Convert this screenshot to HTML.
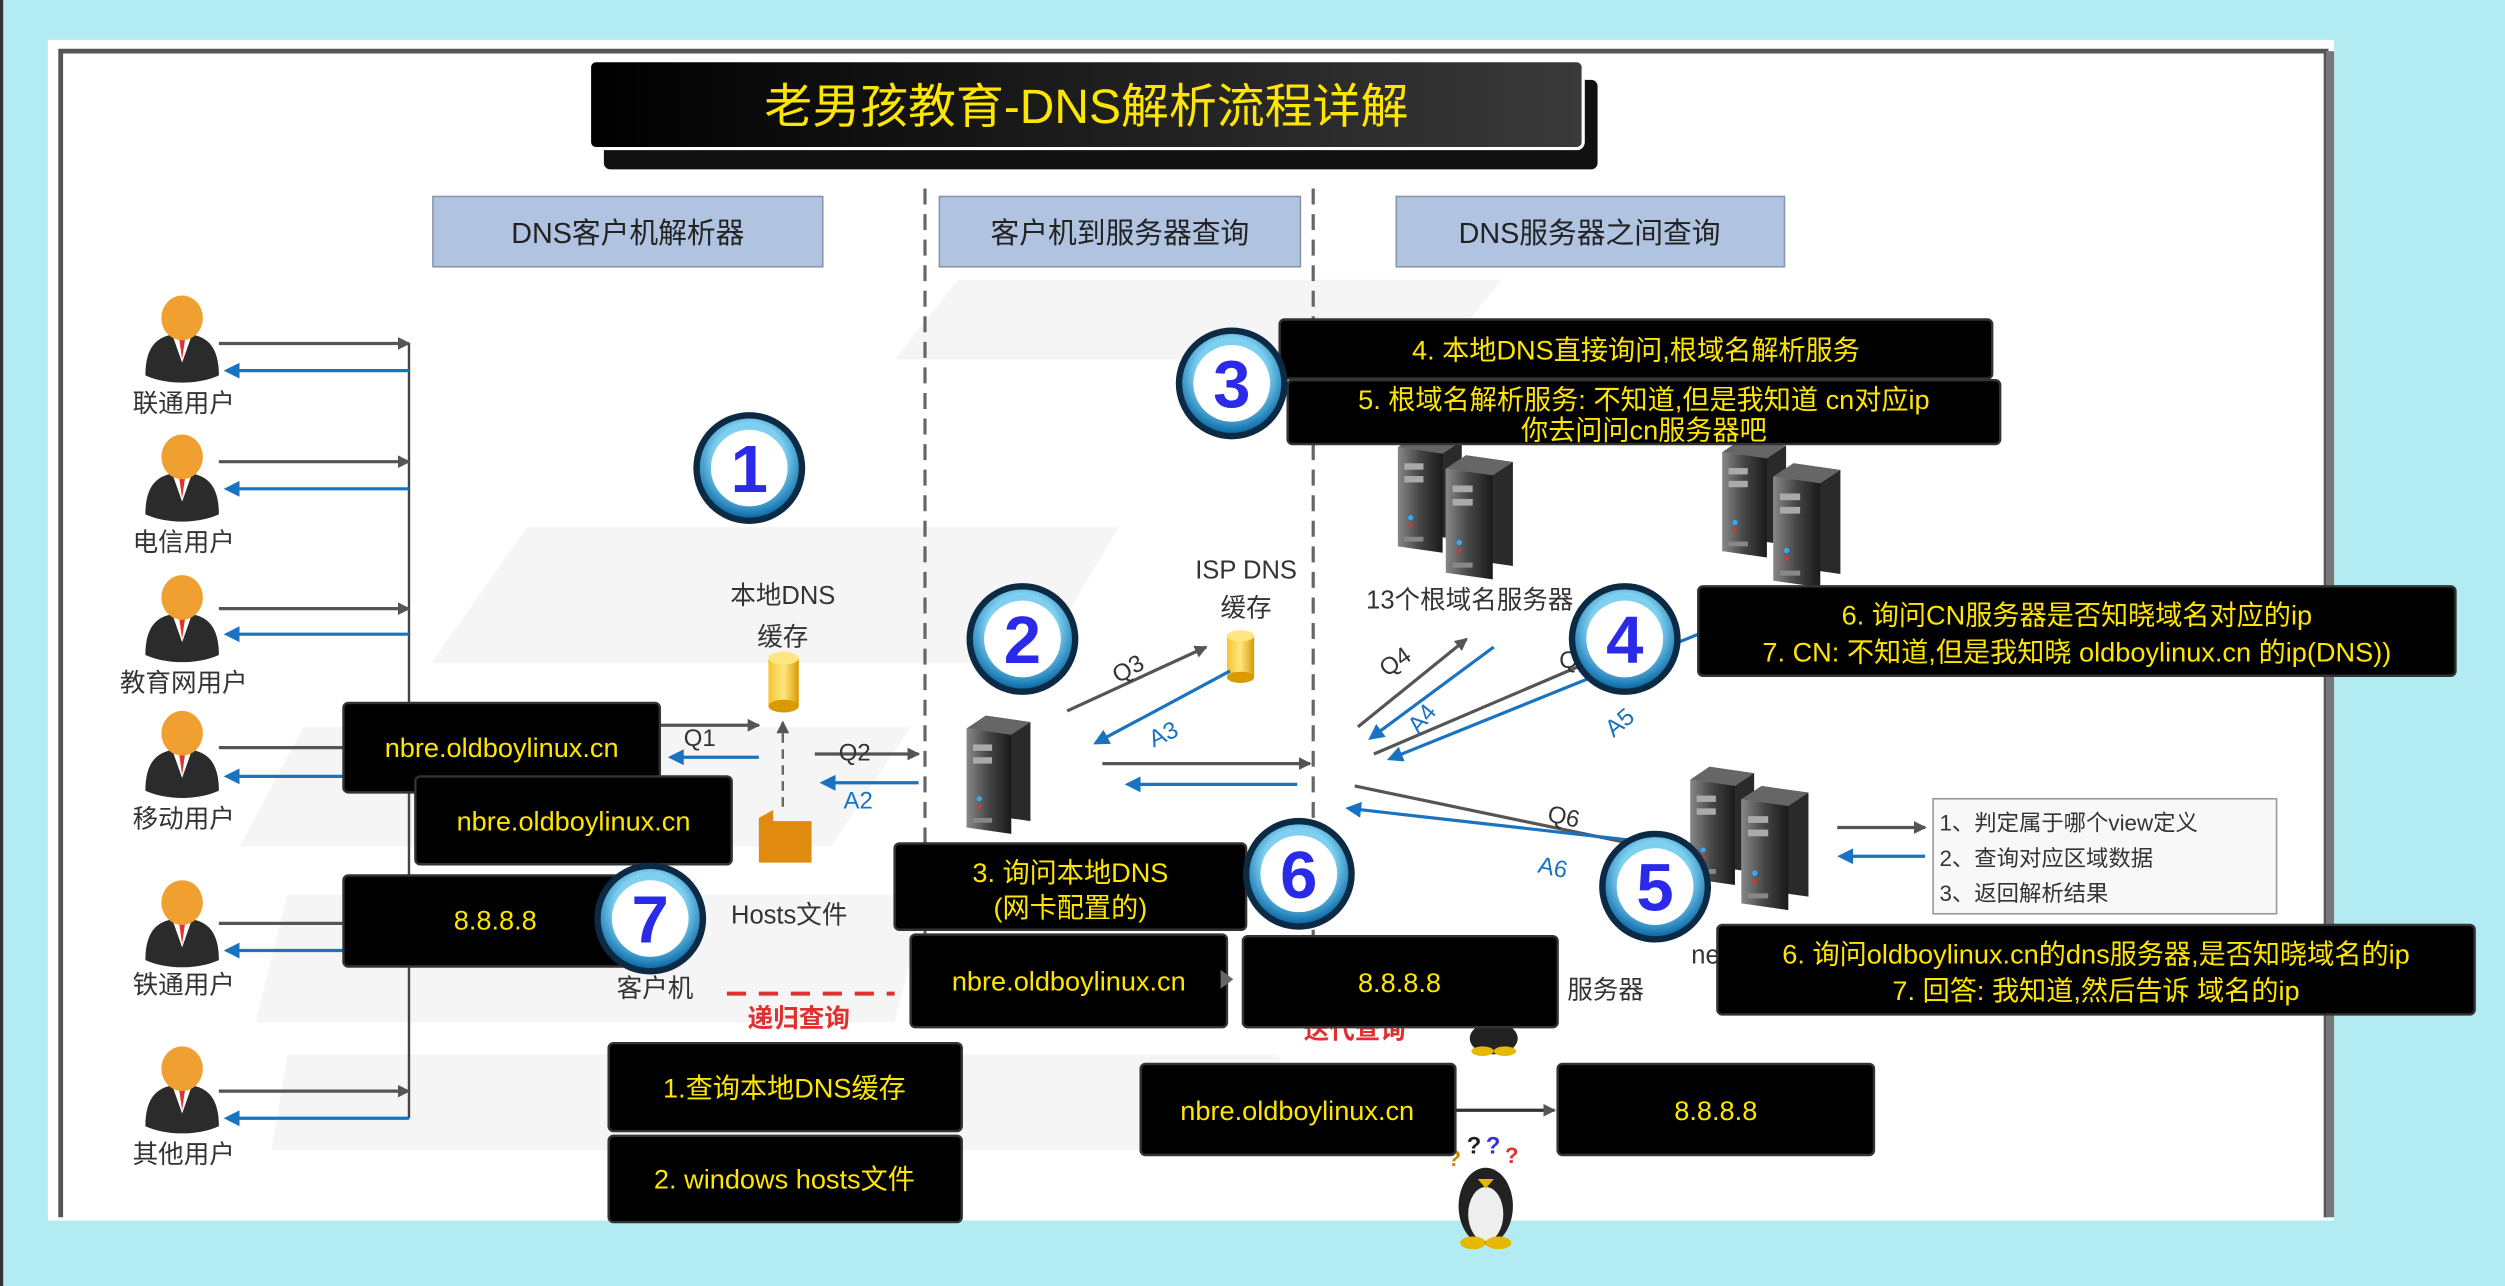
<!DOCTYPE html>
<html><head><meta charset="utf-8"><style>
html,body{margin:0;padding:0;background:#b3ebf2;}
svg{display:block;}
text{font-family:"Liberation Sans","Noto Sans CJK SC",sans-serif;}
</style></head><body>
<svg width="2505" height="1286" viewBox="0 0 1568 805" preserveAspectRatio="none" xmlns="http://www.w3.org/2000/svg">
<defs>
<linearGradient id="tg" x1="0" y1="0" x2="1" y2="0"><stop offset="0" stop-color="#000"/><stop offset="1" stop-color="#3a3a3a"/></linearGradient>
<radialGradient id="ring" cx="0.5" cy="0.4" r="0.6"><stop offset="0.6" stop-color="#7fd0f0"/><stop offset="1" stop-color="#0a6aa8"/></radialGradient>
<linearGradient id="srvf" x1="0" y1="0" x2="1" y2="0"><stop offset="0" stop-color="#888"/><stop offset="0.5" stop-color="#444"/><stop offset="1" stop-color="#1a1a1a"/></linearGradient>
<linearGradient id="srvs" x1="0" y1="0" x2="1" y2="0"><stop offset="0" stop-color="#ddd"/><stop offset="1" stop-color="#999"/></linearGradient>
<linearGradient id="cyl" x1="0" y1="0" x2="1" y2="0"><stop offset="0" stop-color="#f6c431"/><stop offset="0.5" stop-color="#ffe680"/><stop offset="1" stop-color="#d99a00"/></linearGradient>
<marker id="ag" markerWidth="8" markerHeight="8" refX="7" refY="4" orient="auto" markerUnits="userSpaceOnUse"><path d="M0,0 L8,4 L0,8 Z" fill="#555"/></marker>
<marker id="abe" markerWidth="10" markerHeight="10" refX="8" refY="5" orient="auto" markerUnits="userSpaceOnUse"><path d="M0,0 L10,5 L0,10 Z" fill="#1a73c0"/></marker>
<g id="person">
<path d="M-23,34 C-23,14 -14,8 0,8 C14,8 23,14 23,34 C10,40 -10,40 -23,34 Z" fill="#2b2b2b"/>
<path d="M-6,9 L0,26 L6,9 Z" fill="#fff"/>
<path d="M-2,10 L0,24 L2,10 Z" fill="#d33"/>
<ellipse cx="0" cy="-2" rx="13" ry="14" fill="#f0a030"/>
</g>
<g id="server">
<path d="M0,8 L12,0 L12,62 L0,70 Z" fill="url(#srvs)"/>
<path d="M12,0 L40,4 L40,66 L12,62 Z" fill="#2a2a2a"/>
<path d="M0,8 L12,0 L40,4 L28,12 Z" fill="#666"/>
<path d="M0,8 L28,12 L28,74 L0,70 Z" fill="url(#srvf)"/>
<rect x="4" y="18" width="12" height="4" fill="#aaa"/><rect x="4" y="26" width="12" height="4" fill="#aaa"/>
<circle cx="8" cy="52" r="1.6" fill="#3af"/><circle cx="8" cy="57" r="1.2" fill="#d33"/>
<rect x="4" y="64" width="12" height="3" fill="#888"/>
</g>
</defs>
<rect x="0" y="0" width="1568" height="805" fill="#b3ebf2"/>
<rect x="0" y="0" width="2" height="805" fill="#333"/>
<rect x="30" y="25" width="1431" height="739" fill="#fff"/>
<path d="M38,762 L38,32 L1456,32 L1456,762" fill="none" stroke="#555" stroke-width="3"/>
<rect x="1456" y="32" width="5" height="730" fill="#777"/>
<g fill="#f5f5f5">
<polygon points="600,175 940,175 900,225 560,225"/>
<polygon points="330,330 700,330 650,415 270,415"/>
<polygon points="190,455 570,455 520,530 150,530"/>
<polygon points="180,560 580,560 560,640 160,640"/>
<polygon points="180,660 800,660 820,720 170,720"/>
</g>
<rect x="378" y="50" width="622" height="56" rx="4" fill="#111"/>
<rect x="369" y="38" width="622" height="55" rx="4" fill="url(#tg)" stroke="#fff" stroke-width="2"/>
<text x="680" y="77" font-size="30" fill="#ffe600" text-anchor="middle">老男孩教育-DNS解析流程详解</text>
<g font-size="18" fill="#222" text-anchor="middle">
<rect x="271" y="123" width="244" height="44" fill="#b0c4e2" stroke="#8a96a8"/><text x="393" y="152">DNS客户机解析器</text>
<rect x="588" y="123" width="226" height="44" fill="#b0c4e2" stroke="#8a96a8"/><text x="701" y="152">客户机到服务器查询</text>
<rect x="874" y="123" width="243" height="44" fill="#b0c4e2" stroke="#8a96a8"/><text x="995" y="152">DNS服务器之间查询</text>
</g>
<line x1="579" y1="118" x2="579" y2="610" stroke="#666" stroke-width="2" stroke-dasharray="10,6"/>
<line x1="822" y1="118" x2="822" y2="640" stroke="#666" stroke-width="2" stroke-dasharray="10,6"/>
<line x1="256" y1="215" x2="256" y2="700" stroke="#444" stroke-width="1.5"/>
<g stroke-width="2">
<line x1="137" y1="215" x2="256" y2="215" stroke="#555" marker-end="url(#ag)"/><line x1="256" y1="232" x2="142" y2="232" stroke="#1a73c0" marker-end="url(#abe)"/>
<line x1="137" y1="289" x2="256" y2="289" stroke="#555" marker-end="url(#ag)"/><line x1="256" y1="306" x2="142" y2="306" stroke="#1a73c0" marker-end="url(#abe)"/>
<line x1="137" y1="381" x2="256" y2="381" stroke="#555" marker-end="url(#ag)"/><line x1="256" y1="397" x2="142" y2="397" stroke="#1a73c0" marker-end="url(#abe)"/>
<line x1="137" y1="468" x2="256" y2="468" stroke="#555"/><line x1="256" y1="486" x2="142" y2="486" stroke="#1a73c0" marker-end="url(#abe)"/>
<line x1="137" y1="578" x2="256" y2="578" stroke="#555"/><line x1="256" y1="595" x2="142" y2="595" stroke="#1a73c0" marker-end="url(#abe)"/>
<line x1="137" y1="683" x2="256" y2="683" stroke="#555" marker-end="url(#ag)"/><line x1="256" y1="700" x2="142" y2="700" stroke="#1a73c0" marker-end="url(#abe)"/>
</g>
<use href="#person" x="114" y="201"/><use href="#person" x="114" y="288"/><use href="#person" x="114" y="376"/>
<use href="#person" x="114" y="461"/><use href="#person" x="114" y="567"/><use href="#person" x="114" y="671"/>
<g font-size="16" fill="#333" text-anchor="middle">
<text x="115" y="258">联通用户</text><text x="115" y="345">电信用户</text><text x="115" y="433">教育网用户</text>
<text x="115" y="518">移动用户</text><text x="115" y="622">铁通用户</text><text x="115" y="728">其他用户</text>
</g>
<g font-size="16" fill="#333" text-anchor="middle">
<text x="490" y="378">本地DNS</text><text x="490" y="404">缓存</text>
<text x="780" y="362">ISP DNS</text><text x="780" y="386">缓存</text>
<text x="494" y="578">Hosts文件</text><text x="410" y="624">客户机</text>
<text x="920" y="381">13个根域名服务器</text>
<text x="1080" y="603">nexus</text><text x="1005" y="625">服务器</text>
</g>
<rect x="481" y="412" width="19" height="30" fill="url(#cyl)"/><ellipse cx="490.5" cy="412" rx="9.5" ry="4" fill="#ffe680"/><ellipse cx="490.5" cy="442" rx="9.5" ry="4" fill="#d99a00"/>
<rect x="768" y="398" width="17" height="26" fill="url(#cyl)"/><ellipse cx="776.5" cy="398" rx="8.5" ry="3.5" fill="#ffe680"/><ellipse cx="776.5" cy="424" rx="8.5" ry="3.5" fill="#d99a00"/>
<path d="M475,512 L484,507 L484,514 L508,514 L508,540 L475,540 Z" fill="#e08a10"/>
<line x1="490" y1="505" x2="490" y2="452" stroke="#666" stroke-width="1.5" stroke-dasharray="6,4" marker-end="url(#ag)"/>
<g stroke-width="2">
<line x1="413" y1="454" x2="475" y2="454" stroke="#555" marker-end="url(#ag)"/>
<line x1="475" y1="474" x2="420" y2="474" stroke="#1a73c0" marker-end="url(#abe)"/>
<line x1="510" y1="472" x2="575" y2="472" stroke="#555" marker-end="url(#ag)"/>
<line x1="575" y1="490" x2="515" y2="490" stroke="#1a73c0" marker-end="url(#abe)"/>
<line x1="668" y1="445" x2="755" y2="405" stroke="#555" marker-end="url(#ag)"/>
<line x1="770" y1="420" x2="686" y2="465" stroke="#1a73c0" marker-end="url(#abe)"/>
<line x1="690" y1="478" x2="820" y2="478" stroke="#555" marker-end="url(#ag)"/>
<line x1="812" y1="491" x2="706" y2="491" stroke="#1a73c0" marker-end="url(#abe)"/>
<line x1="850" y1="455" x2="918" y2="400" stroke="#555" marker-end="url(#ag)"/>
<line x1="935" y1="405" x2="858" y2="462" stroke="#1a73c0" marker-end="url(#abe)"/>
<line x1="860" y1="472" x2="1005" y2="410" stroke="#555"/>
<line x1="1068" y1="395" x2="870" y2="475" stroke="#1a73c0" marker-end="url(#abe)"/>
<line x1="848" y1="492" x2="1040" y2="532" stroke="#555"/>
<line x1="1030" y1="527" x2="844" y2="506" stroke="#1a73c0" marker-end="url(#abe)"/>
<line x1="1150" y1="518" x2="1205" y2="518" stroke="#555" marker-end="url(#ag)"/>
<line x1="1205" y1="536" x2="1152" y2="536" stroke="#1a73c0" marker-end="url(#abe)"/>
<line x1="911" y1="695" x2="973" y2="695" stroke="#333" marker-end="url(#ag)"/>
</g>
<g font-size="15" fill="#333">
<text x="428" y="467">Q1</text><text x="525" y="476">Q2</text>
<text x="700" y="428" transform="rotate(-30 700 428)">Q3</text>
<text x="868" y="424" transform="rotate(-35 868 424)">Q4</text>
<text x="976" y="418">Q</text>
<text x="968" y="514" transform="rotate(12 968 514)">Q6</text>
</g>
<g font-size="15" fill="#1a73c0">
<text x="528" y="506">A2</text>
<text x="722" y="468" transform="rotate(-25 722 468)">A3</text>
<text x="888" y="460" transform="rotate(-50 888 460)">A4</text>
<text x="1010" y="462" transform="rotate(-40 1010 462)">A5</text>
<text x="962" y="546" transform="rotate(12 962 546)">A6</text>
</g>
<line x1="455" y1="622" x2="560" y2="622" stroke="#e03030" stroke-width="2.5" stroke-dasharray="12,8"/>
<text x="500" y="643" font-size="16" fill="#e03030" font-weight="bold" text-anchor="middle">递归查询</text>
<text x="848" y="650" font-size="16" fill="#e03030" font-weight="bold" text-anchor="middle">迭代查询</text>
<use href="#server" x="605" y="448"/>
<use href="#server" x="875" y="272"/><use href="#server" x="905" y="285" transform="translate(905 285) scale(1.05) translate(-905 -285)"/>
<use href="#server" x="1078" y="275"/><use href="#server" x="1110" y="290" transform="translate(1110 290) scale(1.05) translate(-1110 -290)"/>
<use href="#server" x="1058" y="480"/><use href="#server" x="1090" y="492" transform="translate(1090 492) scale(1.05) translate(-1090 -492)"/>
<g>
<ellipse cx="935" cy="650" rx="15" ry="10" fill="#222"/><ellipse cx="928" cy="658" rx="7" ry="3" fill="#e6b800"/><ellipse cx="942" cy="658" rx="7" ry="3" fill="#e6b800"/>
<ellipse cx="930" cy="755" rx="17" ry="24" fill="#222"/><ellipse cx="930" cy="760" rx="11" ry="17" fill="#eee"/><path d="M925,738 L935,738 L930,744Z" fill="#e6b800"/>
<ellipse cx="922" cy="778" rx="8" ry="4" fill="#e6b800"/><ellipse cx="938" cy="778" rx="8" ry="4" fill="#e6b800"/>
<text x="906" y="730" font-size="14" fill="#c80" font-weight="bold">?</text><text x="918" y="722" font-size="15" fill="#222" font-weight="bold">?</text><text x="930" y="722" font-size="15" fill="#33c" font-weight="bold">?</text><text x="942" y="728" font-size="14" fill="#d33" font-weight="bold">?</text>
</g>
<rect x="1210" y="500" width="215" height="72" fill="#f8f8f8" stroke="#999"/>
<g font-size="14" fill="#333"><text x="1214" y="520">1、判定属于哪个view定义</text><text x="1214" y="542">2、查询对应区域数据</text><text x="1214" y="564">3、返回解析结果</text></g>
<g fill="#000" stroke="#333" stroke-width="1.5">
<rect x="215" y="440" width="198" height="56" rx="3"/>
<rect x="260" y="486" width="198" height="55" rx="3"/>
<rect x="215" y="548" width="190" height="57" rx="3"/>
<rect x="560" y="528" width="220" height="54" rx="3"/>
<rect x="570" y="585" width="198" height="58" rx="3"/>
<rect x="778" y="586" width="197" height="57" rx="3"/>
<rect x="381" y="653" width="221" height="55" rx="3"/>
<rect x="381" y="711" width="221" height="54" rx="3"/>
<rect x="714" y="666" width="197" height="57" rx="3"/>
<rect x="975" y="666" width="198" height="57" rx="3"/>
<rect x="801" y="200" width="446" height="37" rx="3"/>
<rect x="806" y="238" width="446" height="40" rx="3"/>
<rect x="1063" y="367" width="474" height="56" rx="3"/>
<rect x="1075" y="579" width="474" height="56" rx="3"/>
</g>
<g font-size="17" fill="#ffe600" text-anchor="middle">
<text x="314" y="474">nbre.oldboylinux.cn</text>
<text x="359" y="520">nbre.oldboylinux.cn</text>
<text x="310" y="582">8.8.8.8</text>
<text x="670" y="552">3. 询问本地DNS</text><text x="670" y="574">(网卡配置的)</text>
<text x="669" y="620">nbre.oldboylinux.cn</text>
<text x="876" y="621">8.8.8.8</text>
<text x="491" y="687">1.查询本地DNS缓存</text>
<text x="491" y="744">2. windows hosts文件</text>
<text x="812" y="701">nbre.oldboylinux.cn</text>
<text x="1074" y="701">8.8.8.8</text>
<text x="1024" y="225">4. 本地DNS直接询问,根域名解析服务</text>
<text x="1029" y="256">5. 根域名解析服务: 不知道,但是我知道 cn对应ip</text>
<text x="1029" y="275">你去问问cn服务器吧</text>
<text x="1300" y="391">6. 询问CN服务器是否知晓域名对应的ip</text>
<text x="1300" y="414">7. CN: 不知道,但是我知晓 oldboylinux.cn 的ip(DNS))</text>
<text x="1312" y="603">6. 询问oldboylinux.cn的dns服务器,是否知晓域名的ip</text>
<text x="1312" y="626">7.  回答: 我知道,然后告诉 域名的ip</text>
</g>
<path d="M764,607 L772,613 L764,619 Z" fill="#666"/>
<g font-size="42" font-weight="bold" fill="#2a2ae8" text-anchor="middle">
<g transform="translate(469,293)"><circle r="35" fill="#0c2a44"/><circle r="31" fill="url(#ring)"/><circle r="24" fill="#fff"/><text y="15">1</text></g>
<g transform="translate(640,400)"><circle r="35" fill="#0c2a44"/><circle r="31" fill="url(#ring)"/><circle r="24" fill="#fff"/><text y="15">2</text></g>
<g transform="translate(771,240)"><circle r="35" fill="#0c2a44"/><circle r="31" fill="url(#ring)"/><circle r="24" fill="#fff"/><text y="15">3</text></g>
<g transform="translate(1017,400)"><circle r="35" fill="#0c2a44"/><circle r="31" fill="url(#ring)"/><circle r="24" fill="#fff"/><text y="15">4</text></g>
<g transform="translate(1036,555)"><circle r="35" fill="#0c2a44"/><circle r="31" fill="url(#ring)"/><circle r="24" fill="#fff"/><text y="15">5</text></g>
<g transform="translate(813,547)"><circle r="35" fill="#0c2a44"/><circle r="31" fill="url(#ring)"/><circle r="24" fill="#fff"/><text y="15">6</text></g>
<g transform="translate(407,575)"><circle r="35" fill="#0c2a44"/><circle r="31" fill="url(#ring)"/><circle r="24" fill="#fff"/><text y="15">7</text></g>
</g>
</svg>
</body></html>
